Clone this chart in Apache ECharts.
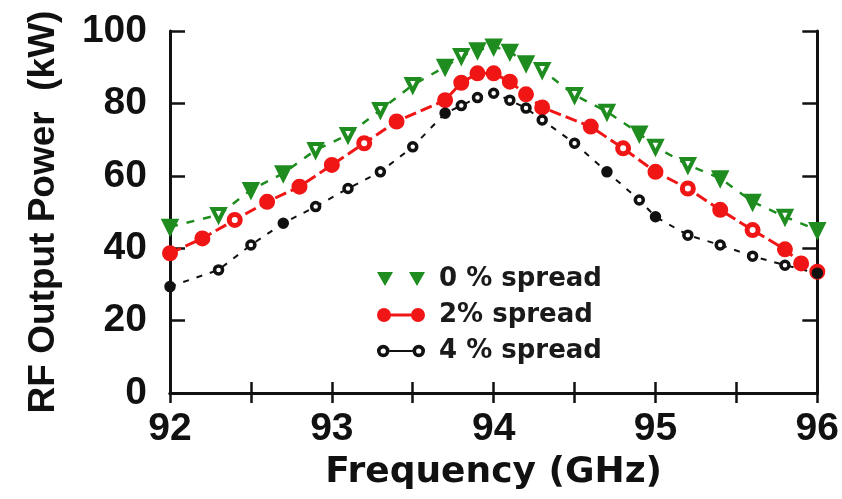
<!DOCTYPE html>
<html>
<head>
<meta charset="utf-8">
<script src="https://cdn.jsdelivr.net/npm/echarts@6/dist/echarts.min.js"></script>
<style>
  html, body { margin: 0; padding: 0; background: #fff; }
  #chart { width: 842px; height: 499px; }
</style>
</head>
<body>
<div id="chart"></div>
<script>
// frequencies (GHz) and output power (kW)
const freq0 = [92.0, 92.3, 92.5, 92.7, 92.9, 93.1, 93.3, 93.5, 93.7, 93.8, 93.9, 94.0,
  94.1, 94.2, 94.3, 94.5, 94.7, 94.9, 95.0, 95.2, 95.4, 95.6, 95.8, 96.0]
const power0 = [45.9, 49.2, 56.1, 60.7, 67.1, 71.3, 78.2, 85.1, 90.1, 93.1, 94.7, 95.7,
  94.3, 91.1, 89.2, 82.3, 77.7, 71.7, 68.0, 63.0, 59.3, 52.8, 48.7, 45.0]

const freq2 = [92.0, 92.2, 92.4, 92.6, 92.8, 93.0, 93.2, 93.4, 93.7, 93.8, 93.9, 94.0,
  94.1, 94.2, 94.3, 94.6, 94.8, 95.0, 95.2, 95.4, 95.6, 95.8, 95.9, 96.0]
const power2 = [38.6, 42.7, 47.8, 52.8, 57.0, 63.0, 69.0, 75.0, 80.9, 85.7, 88.3, 88.3,
  86.0, 82.5, 78.9, 73.6, 67.6, 61.1, 56.5, 50.6, 45.0, 39.7, 35.8, 33.5]

const freq4 = [92.0, 92.3, 92.5, 92.7, 92.9, 93.1, 93.3, 93.5, 93.7, 93.8, 93.9, 94.0,
  94.1, 94.2, 94.3, 94.5, 94.7, 94.9, 95.0, 95.2, 95.4, 95.6, 95.8, 96.0]
const power4 = [29.4, 34.0, 40.9, 46.9, 51.5, 56.5, 61.1, 68.0, 77.3, 79.4, 81.6, 82.8,
  80.9, 78.7, 75.4, 69.0, 61.1, 53.3, 48.7, 43.6, 40.9, 37.8, 35.3, 33.1]

const seriesNames = ['0 % spread', '2% spread', '4 % spread']
const xTicks = [92, 93, 94, 95, 96]

// which markers are drawn open / filled in the original
const open0 = [1, 4, 5, 6, 7, 9, 14, 15, 16, 18, 19, 22]
const open2 = [2, 6, 16, 18, 20]
const filled4 = [0, 3, 8, 16, 18, 23]

const green = '#1e8c1e'
const red = '#f01616'
const black = '#111111'

function pairs (xs, ys, hollow) {
  return xs.map((x, i) => {
    let item = { value: [x, ys[i]] }
    if (hollow(i)) item.itemStyle = { color: '#ffffff' }
    return item
  })
}

const labelFont = { fontFamily: 'Liberation Sans', fontWeight: 'bold', fontSize: 39, color: '#111' }

let myChart = echarts.init(document.getElementById('chart'))
myChart.setOption({
  animation: false,
  backgroundColor: '#fff',
  grid: { left: 170, right: 24, top: 31, bottom: 106 },
  legend: {
    orient: 'vertical',
    left: 372,
    top: 259,
    itemWidth: 48,
    itemHeight: 14,
    itemGap: 6,
    itemStyle: { borderWidth: 0 },
    textStyle: {
      fontFamily: 'DejaVu Sans',
      fontWeight: 'bold',
      fontSize: 26,
      lineHeight: 30,
      color: '#1a1a1a',
      padding: [0, 0, 0, 9]
    },
    data: [
      { name: seriesNames[0], icon: 'path://M0,0 L16,0 L8,14 Z M32,0 L48,0 L40,14 Z', itemStyle: { color: green } },
      { name: seriesNames[1], icon: 'path://M0,7 A7,7 0 1,1 14,7 A7,7 0 1,1 0,7 Z M34,7 A7,7 0 1,1 48,7 A7,7 0 1,1 34,7 Z M13,5.5 L35,5.5 L35,8.5 L13,8.5 Z', itemStyle: { color: red } },
      { name: seriesNames[2], icon: 'path://M1,7 A6,6 0 1,1 13,7 A6,6 0 1,1 1,7 Z M9.5,7 A2.5,2.5 0 1,0 4.5,7 A2.5,2.5 0 1,0 9.5,7 Z M35,7 A6,6 0 1,1 47,7 A6,6 0 1,1 35,7 Z M43.5,7 A2.5,2.5 0 1,0 38.5,7 A2.5,2.5 0 1,0 43.5,7 Z M13,6 L35,6 L35,8 L13,8 Z', itemStyle: { color: black } }
    ]
  },
  xAxis: [
    {
      type: 'value',
      min: 92,
      max: 96,
      interval: 0.5,
      name: 'Frequency (GHz)',
      nameLocation: 'middle',
      nameGap: 62,
      nameTextStyle: { fontFamily: 'DejaVu Sans', fontWeight: 'bold', fontSize: 36, color: '#111' },
      axisLine: { lineStyle: { color: '#111', width: 3 } },
      axisTick: { inside: true, length: 11, lineStyle: { width: 2.5, color: '#111' } },
      axisLabel: Object.assign({
        margin: 17,
        formatter: v => xTicks.indexOf(v) >= 0 ? String(v) : ''
      }, labelFont),
      splitLine: { show: false }
    },
    {
      type: 'value',
      position: 'top',
      min: 92,
      max: 96,
      interval: 0.5,
      axisLine: { lineStyle: { color: '#111', width: 3 } },
      axisTick: { inside: true, length: 10, lineStyle: { width: 2.5, color: '#111' } },
      axisLabel: { show: false },
      splitLine: { show: false }
    }
  ],
  yAxis: [
    {
      type: 'value',
      min: 0,
      max: 100,
      interval: 20,
      name: 'RF Output Power  (kW)',
      nameLocation: 'middle',
      nameGap: 108,
      nameTextStyle: { fontFamily: 'Liberation Sans', fontWeight: 'bold', fontSize: 37, color: '#111' },
      axisLine: { show: true, lineStyle: { color: '#111', width: 3 } },
      axisTick: { show: true, inside: true, length: 15, lineStyle: { width: 2.5, color: '#111' } },
      axisLabel: Object.assign({ margin: 23 }, labelFont),
      splitLine: { show: false }
    },
    {
      type: 'value',
      position: 'right',
      min: 0,
      max: 100,
      interval: 20,
      axisLine: { show: true, lineStyle: { color: '#111', width: 3 } },
      axisTick: { show: true, inside: true, length: 15, lineStyle: { width: 2.5, color: '#111' } },
      axisLabel: { show: false },
      splitLine: { show: false }
    }
  ],
  series: [
    {
      name: seriesNames[0],
      type: 'line',
      symbol: 'triangle',
      symbolRotate: 180,
      symbolSize: 12,
      itemStyle: { color: green, borderColor: green, borderWidth: 4 },
      lineStyle: { color: green, width: 2.5, type: [8, 9] },
      data: pairs(freq0, power0, i => open0.indexOf(i) >= 0)
    },
    {
      name: seriesNames[1],
      type: 'line',
      symbol: 'circle',
      symbolSize: 11,
      itemStyle: { color: red, borderColor: red, borderWidth: 5 },
      lineStyle: { color: red, width: 3, type: [12, 5] },
      data: pairs(freq2, power2, i => open2.indexOf(i) >= 0)
    },
    {
      name: seriesNames[2],
      type: 'line',
      symbol: 'circle',
      symbolSize: 8,
      itemStyle: { color: black, borderColor: black, borderWidth: 3.5 },
      lineStyle: { color: black, width: 2, type: [6, 8] },
      data: pairs(freq4, power4, i => filled4.indexOf(i) < 0)
    }
  ]
})
</script>
</body>
</html>
